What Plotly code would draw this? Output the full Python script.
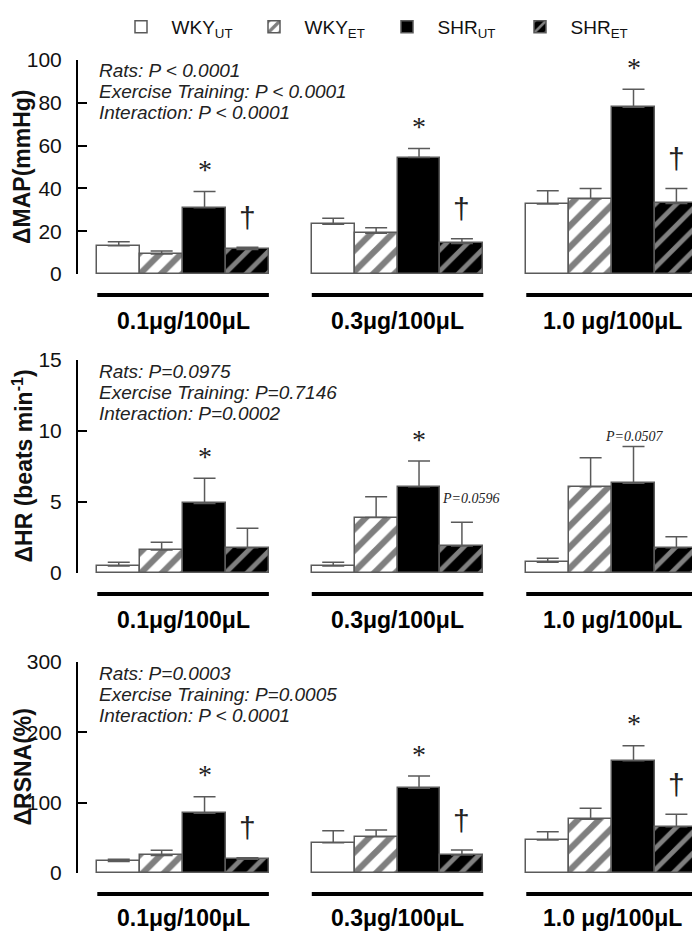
import plotly.graph_objects as go

# the page puts the figure 8px in from the top-left corner
W, H = 692, 924
OFF = 8

groups = ["0.1\u03bcg/100\u03bcL", "0.3\u03bcg/100\u03bcL", "1.0 \u03bcg/100\u03bcL"]
series = ["WKY<sub>UT</sub>", "WKY<sub>ET</sub>", "SHR<sub>UT</sub>", "SHR<sub>ET</sub>"]

# mean values, one list per series (WKY_UT, WKY_ET, SHR_UT, SHR_ET), over the 3 doses
map_mean = [[13.2, 23.2, 32.7], [9.3, 19.0, 35.2], [31.0, 54.4, 77.9], [11.5, 14.3, 33.0]]
map_err = [[1.9, 2.8, 6.2], [1.4, 2.6, 4.7], [7.5, 4.3, 8.4], [1.0, 2.2, 6.9]]
hr_mean = [[0.5, 0.5, 0.75], [1.62, 3.9, 6.08], [4.9, 6.08, 6.32], [1.78, 1.9, 1.78]]
hr_err = [[0.25, 0.25, 0.28], [0.54, 1.47, 2.04], [1.77, 1.8, 2.58], [1.37, 1.67, 0.78]]
rsna_mean = [[16.5, 43, 47], [25, 51.6, 76.3], [84.8, 120.4, 159.7], [19.4, 25.6, 65.8]]
rsna_err = [[3, 17, 11.8], [7.5, 9.5, 15.7], [23.7, 17.5, 21.3], [2.4, 7, 17.6]]

map_stats = ["Rats: P < 0.0001", "Exercise Training: P < 0.0001", "Interaction: P < 0.0001"]
hr_stats = ["Rats: P=0.0975", "Exercise Training: P=0.7146", "Interaction: P=0.0002"]
rsna_stats = ["Rats: P=0.0003", "Exercise Training: P=0.0005", "Interaction: P < 0.0001"]

# groups with * over SHR_UT and † over SHR_ET
map_star, map_dagger = [0, 1, 2], [0, 1, 2]
hr_star, hr_dagger = [0, 1], []
rsna_star, rsna_dagger = [0, 1, 2], [0, 1, 2]

panels = [
    dict(mean=map_mean, err=map_err, stats=map_stats, star=map_star, dagger=map_dagger,
         title="\u0394MAP(mmHg)", rng=[0, 100], dtick=20, px=(60, 274), lab=47),
    dict(mean=hr_mean, err=hr_err, stats=hr_stats, star=hr_star, dagger=hr_dagger,
         title="\u0394HR (beats min<sup>-1</sup>)", rng=[0, 15], dtick=5, px=(360, 573), lab=47),
    dict(mean=rsna_mean, err=rsna_err, stats=rsna_stats, star=rsna_star, dagger=rsna_dagger,
         title="\u0394RSNA(%)", rng=[0, 300], dtick=100, px=(662, 873), lab=45),
]

styles = [
    dict(color="white", pattern=None),
    dict(color="white", pattern=dict(shape="/", fillmode="overlay", fgcolor="black", size=15, solidity=0.42)),
    dict(color="black", pattern=None),
    dict(color="black", pattern=dict(shape="/", fillmode="overlay", fgcolor="white", size=15, solidity=0.32)),
]

FONT = "Liberation Sans, Arial, sans-serif"
SERIF = "Liberation Serif, Times New Roman, serif"


def py(px):
    # screen pixel row -> paper fraction
    return 1 - (px - OFF) / H


fig = go.Figure()
annotations = []
shapes = []
layout_axes = {}

for p, pan in enumerate(panels):
    n = "" if p == 0 else str(p + 1)
    top, bot = pan["px"]
    for s in range(4):
        xs = [g * 5 + s for g in range(3)]
        marker = dict(color=styles[s]["color"], line=dict(color="#5a5a5a", width=1.5))
        if styles[s]["pattern"]:
            marker["pattern"] = styles[s]["pattern"]
        fig.add_trace(go.Bar(
            x=xs, y=pan["mean"][s], width=1, name="\u00a0\u00a0" + series[s],
            marker=marker, showlegend=(p == 0),
            error_y=dict(type="data", symmetric=False, array=pan["err"][s],
                         arrayminus=[0, 0, 0], color="#5a5a5a", thickness=1.5, width=11),
            xaxis="x" + n, yaxis="y" + n,
        ))
    for g in pan["star"]:
        annotations.append(dict(x=g * 5 + 2, y=pan["mean"][2][g] + pan["err"][2][g],
                                xref="x" + n, yref="y" + n, text="*", showarrow=False,
                                yanchor="middle", yshift=22,
                                font=dict(family=SERIF, size=28, color="#222")))
    for g in pan["dagger"]:
        annotations.append(dict(x=g * 5 + 3, y=pan["mean"][3][g] + pan["err"][3][g],
                                xref="x" + n, yref="y" + n, text="\u2020", showarrow=False,
                                yanchor="middle", yshift=30,
                                font=dict(family=FONT, size=30, color="#222")))
    for i, line in enumerate(pan["stats"]):
        annotations.append(dict(x=-0.5, y=1, xref="x" + n, yref="y" + n + " domain",
                                text="<i>" + line + "</i>", showarrow=False,
                                xanchor="left", yanchor="middle", yshift=-11 - 21 * i,
                                font=dict(family=FONT, size=19, color="#222")))
    # y-axis title, placed by hand so it sits left of the tick labels
    annotations.append(dict(x=0, y=0.5, xref="paper", yref="y" + n + " domain",
                            text="<b>" + pan["title"] + "</b>", textangle=-90,
                            showarrow=False, xanchor="center", yanchor="middle", xshift=-56,
                            font=dict(family=FONT, size=23, color="#111")))
    for g in range(3):
        shapes.append(dict(type="line", xref="x" + n, yref="paper",
                           x0=g * 5 - 0.5, x1=g * 5 + 3.5,
                           y0=py(bot + 21), y1=py(bot + 21),
                           line=dict(color="black", width=4)))
        annotations.append(dict(x=g * 5 + 1.5, y=py(bot + pan["lab"]),
                                xref="x" + n, yref="paper", text="<b>" + groups[g] + "</b>",
                                showarrow=False, yanchor="middle",
                                font=dict(family=FONT, size=23, color="black")))
    layout_axes["xaxis" + n] = dict(range=[-0.95, 13.55], visible=False, anchor="y" + n)
    layout_axes["yaxis" + n] = dict(
        domain=[py(bot), py(top)], range=pan["rng"], dtick=pan["dtick"],
        anchor="x" + n, showline=True, linecolor="black", linewidth=2,
        ticks="inside", ticklen=9, tickwidth=2, tickcolor="black",
        ticklabelstandoff=10, showgrid=False, zeroline=False, automargin=False,
        tickfont=dict(family=FONT, size=21, color="#111"),
    )

# p-value notes in the HR panel
annotations.append(dict(x=7.5, y=hr_mean[2][1], xref="x2", yref="y2", text="<i>P=0.0596</i>",
                        showarrow=False, xanchor="left", yanchor="middle", yshift=-12,
                        font=dict(family=SERIF, size=14, color="#222")))
annotations.append(dict(x=12, y=hr_mean[2][2] + hr_err[2][2], xref="x2", yref="y2",
                        text="<i>P=0.0507</i>", showarrow=False, yanchor="bottom", yshift=1,
                        font=dict(family=SERIF, size=14, color="#222")))

fig.update_layout(
    width=W, height=H,
    margin=dict(l=78 - OFF, r=0, t=0, b=0, autoexpand=False),
    plot_bgcolor="white", paper_bgcolor="white",
    barmode="overlay", bargap=0,
    annotations=annotations, shapes=shapes,
    legend=dict(orientation="h", x=(121 - 78) / 622, y=1, xanchor="left", yanchor="top",
                entrywidth=88, entrywidthmode="pixels", traceorder="normal",
                font=dict(family=FONT, size=19, color="#111")),
    **layout_axes,
)

fig.write_html("out.html")
